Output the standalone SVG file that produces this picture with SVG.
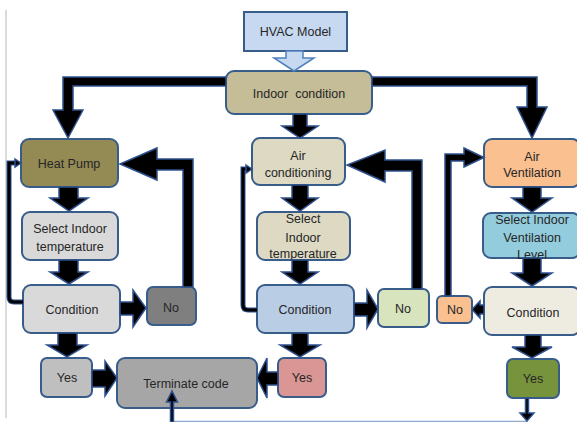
<svg xmlns="http://www.w3.org/2000/svg" width="577" height="422" viewBox="0 0 577 422">
<style>
.box{stroke:#385D8A;stroke-width:2}
.t{font-family:"Liberation Sans",Arial,sans-serif;font-size:12.5px;fill:#262626;text-anchor:middle}
.c{fill:#000;stroke:#2F528F;stroke-width:1.5;stroke-linejoin:miter}
.thinb{fill:none;stroke:#2F528F;stroke-width:5}
.thin{fill:none;stroke:#000;stroke-width:3}
</style>
<rect width="577" height="422" fill="#fff"/>
<line x1="6" y1="10" x2="6" y2="418" stroke="#CFCFCF" stroke-width="1.5"/>

<g id="hvac"><rect class="box" x="244" y="12" width="103" height="39" fill="#C6D9F1" stroke-width="1.5"/><text class="t" x="295.5" y="36">HVAC Model</text></g>
<g id="indoor"><rect class="box" x="226" y="71" width="146" height="43" rx="8" fill="#C4BD97"/><text class="t" x="299" y="98" xml:space="preserve">Indoor  condition</text></g>

<g id="heatpump"><rect class="box" x="21" y="139" width="97" height="48" rx="8" fill="#948A54"/><text class="t" x="69" y="168">Heat Pump</text></g>
<g id="selHP"><rect class="box" x="22" y="212" width="96" height="48" rx="8" fill="#D9D9D9"/><text class="t" x="70" y="233">Select Indoor</text><text class="t" x="70" y="251">temperature</text></g>
<g id="condHP"><rect class="box" x="23" y="285" width="97" height="48" rx="8" fill="#D9D9D9"/><text class="t" x="72" y="314">Condition</text></g>
<g id="noHP"><rect class="box" x="147" y="287" width="49" height="38" rx="6" fill="#7F7F7F"/><text class="t" x="171" y="312">No</text></g>
<g id="yesHP"><rect class="box" x="41" y="358" width="51" height="39" rx="6" fill="#BFBFBF"/><text class="t" x="67" y="382">Yes</text></g>
<g id="terminate"><rect class="box" x="117" y="358" width="140" height="50" rx="8" fill="#A6A6A6"/><text class="t" x="186" y="388">Terminate code</text></g>

<g id="ac"><rect class="box" x="252" y="138" width="93" height="47" rx="8" fill="#DDD9C3"/><text class="t" x="298" y="160">Air</text><text class="t" x="298" y="177">conditioning</text></g>
<g id="selAC"><rect class="box" x="257" y="212" width="93" height="48" rx="8" fill="#DDD9C3"/><text class="t" x="303" y="223">Select</text><text class="t" x="303" y="242">Indoor</text><text class="t" x="303" y="258">temperature</text></g>
<g id="condAC"><rect class="box" x="257" y="285" width="97" height="48" rx="8" fill="#B9CDE5"/><text class="t" x="305" y="314">Condition</text></g>
<g id="noAC"><rect class="box" x="378" y="289" width="51" height="38" rx="6" fill="#D7E4BD"/><text class="t" x="403" y="313">No</text></g>
<g id="yesAC"><rect class="box" x="278" y="358" width="48" height="39" rx="6" fill="#DA9694"/><text class="t" x="302" y="382">Yes</text></g>

<g id="av"><rect class="box" x="484" y="139" width="96" height="48" rx="8" fill="#FAC090"/><text class="t" x="532" y="161">Air</text><text class="t" x="532" y="177">Ventilation</text></g>
<g id="selAV"><rect class="box" x="483" y="213" width="97" height="45" rx="8" fill="#93CDDD"/><text class="t" x="532" y="224">Select Indoor</text><text class="t" x="532" y="242">Ventilation</text><text class="t" x="532" y="259">Level</text></g>
<g id="condAV"><rect class="box" x="484" y="287" width="96" height="48" rx="8" fill="#EEECE1"/><text class="t" x="533" y="317">Condition</text></g>
<g id="noAV"><rect class="box" x="437" y="296" width="35" height="27" rx="5" fill="#FAC090"/><text class="t" x="455" y="314">No</text></g>
<g id="yesAV"><rect class="box" x="507" y="359" width="52" height="39" rx="6" fill="#77933C"/><text class="t" x="533" y="383">Yes</text></g>

<g id="connectors">
<!-- HVAC hollow arrow -->
<polygon points="286,51 286,58 274,58 294,71 314,58 303,58 303,51" fill="#C6D9F1" stroke="#4F81BD" stroke-width="1.5"/>
<!-- Indoor to branches -->
<polygon class="c" points="226,77 63,77 63,110 53,110 68,138 83,110 73,110 73,86 226,86"/>
<polygon class="c" points="372,77 537,77 537,107 547,107 532,138 517,107 527,107 527,86 372,86"/>
<polygon class="c" points="293,114 307,114 307,126 318,126 300,138 282,126 293,126"/>
<!-- Heat pump column -->
<polygon class="c" points="59,187 78,187 78,198 88,198 69,211 50,198 59,198"/>
<polygon class="c" points="59,260 78,260 78,272 88,272 69,284 50,272 59,272"/>
<polygon class="c" points="120,302 133,302 133,290 146,308 133,327 133,315 120,315"/>
<polygon class="c" points="58,333 77,333 77,345 87,345 67,357 47,345 58,345"/>
<polygon class="c" points="92,370 105,370 105,361 117,378 105,396 105,387 92,387"/>
<polygon class="c" points="193,287 193,159 157,159 157,148 120,164 157,180 157,170 183,170 183,287"/>
<path class="thinb" d="M23,302 H14 Q9,302 9,297 V163 H16"/>
<path class="thin" d="M23,302 H14 Q9,302 9,297 V163 H16"/>
<polygon class="c" points="15,159 21,163 15,167" stroke-width="1"/>
<!-- Air conditioning column -->
<polygon class="c" points="292,185 308,185 308,198 318,198 300,211 282,198 292,198"/>
<polygon class="c" points="292,260 308,260 308,272 318,272 300,284 282,272 292,272"/>
<polygon class="c" points="354,303 367,303 367,290 378,309 367,328 367,316 354,316"/>
<polygon class="c" points="292,333 308,333 308,345 320,345 300,357 280,345 292,345"/>
<polygon class="c" points="278,372 267,372 267,358 257,378 267,398 267,385 278,385"/>
<polygon class="c" points="422,289 422,160 385,160 385,150 347,165 385,182 385,171 412,171 412,289"/>
<path class="thinb" d="M257,310 H248 Q243,310 243,305 V169 H247"/>
<path class="thin" d="M257,310 H248 Q243,310 243,305 V169 H247"/>
<polygon class="c" points="246,165 252,169 246,173" stroke-width="1"/>
<!-- Air ventilation column -->
<polygon class="c" points="523,187 541,187 541,198 552,198 532,212 512,198 523,198"/>
<polygon class="c" points="523,258 541,258 541,273 552,273 532,286 512,273 523,273"/>
<polygon class="c" points="525,335 541,335 541,347 552,347 532,358 512,347 525,347"/>
<polygon class="c" points="484,305 480,305 480,301 472,309.5 480,318 480,314 484,314"/>
<polygon class="c" points="445,296 445,154 464,154 464,148 484,157.5 464,167 464,161 451,161 451,296"/>
<!-- bottom loop to terminate -->
<line x1="172" y1="421.5" x2="527" y2="421.5" stroke="#8EA9CC" stroke-width="1.5"/>
<polygon class="c" points="525.5,398 528.5,398 528.5,413 534,413 527,421 520,413 525.5,413" stroke-width="1"/>
<polygon class="c" points="170.5,422 173.5,422 173.5,402 177.5,402 172,391 166.5,402 170.5,402" stroke-width="1"/>
</g>
</svg>
